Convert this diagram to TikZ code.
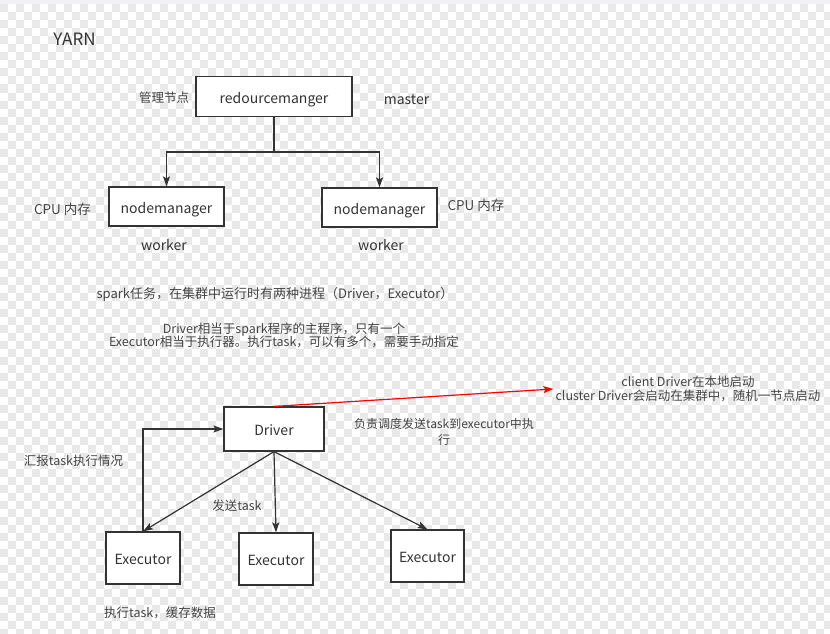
\documentclass[tikz,border=0pt]{standalone}
\usepackage{fontspec}
\setmainfont{Noto Sans CJK SC}
\usepackage{xcolor}
\usetikzlibrary{arrows.meta,positioning}
\definecolor{inkgray}{HTML}{333333}
\definecolor{notegray}{HTML}{444444}
\definecolor{chkgray}{HTML}{E9E9E9}
\definecolor{topband}{HTML}{F1F1F3}

\begin{document}
\begin{tikzpicture}[x=1pt,y=-1pt,
  box/.style={draw=inkgray,line width=1.2pt,fill=white,text=inkgray,font=\fontsize{14}{16}\selectfont,inner sep=0pt,text height=13pt,text depth=0pt},
  note/.style={text=notegray,font=\fontsize{12.5}{14}\selectfont,align=center,inner sep=2pt},
  tag/.style={text=inkgray,font=\fontsize{14}{16}\selectfont,inner sep=2pt},
  arr/.style={-{Stealth[length=10pt,width=7pt,inset=2pt]},draw=inkgray,line width=1.2pt},
  redarr/.style={arr,draw=red},
  chk/.style={draw=chkgray,line width=8pt,dash pattern=on 8pt off 8pt}
]
% background
\useasboundingbox (0,0) rectangle (830,634);
\fill[white] (0,0) rectangle (830,634);
\foreach \yy in {8.5,24.5,...,640} \draw[chk] (0,\yy) -- (830,\yy);
\foreach \yy in {16.5,32.5,...,640} \draw[chk,dash phase=8pt] (0,\yy) -- (830,\yy);
\fill[topband] (0,0) rectangle (830,4.5);

% YARN part
\node[tag,font=\fontsize{17}{19}\selectfont] (yarn) at (74.5,39) {YARN};
\node[box,minimum width=156pt,minimum height=40pt] (rm) at (274,96.5) {redourcemanger};
\node[note,left=4pt of rm,yshift=-1pt] (mgr) {管理节点};
\node[tag] (master) at (406.5,99.5) {master};
\node[box,minimum width=115pt,minimum height=39pt] (nm1) at (166.5,206.5) {nodemanager};
\node[box,minimum width=115pt,minimum height=39pt] (nm2) at (379.5,207.5) {nodemanager};
\node[note,font=\fontsize{13.5}{15}\selectfont] (cpu1) at (62.5,209) {CPU 内存};
\node[note,font=\fontsize{13.5}{15}\selectfont] (cpu2) at (476,205) {CPU 内存};
\node[tag] (wk1) at (164,245.5) {worker};
\node[tag] (wk2) at (381,245.5) {worker};

\coordinate (split) at (274,152);
\draw[arr] (rm.south) -- (split) -| (nm1.north);
\draw[arr] (split) -| (nm2.north);

% spark notes
\node[note,font=\fontsize{13}{15}\selectfont] (spark) at (275,294) {spark任务，在集群中运行时有两种进程（Driver，Executor）};
\node[note,font=\fontsize{12.5}{13.5}\selectfont] (roles) at (284,335.5) {Driver相当于spark程序的主程序，只有一个\\Executor相当于执行器。执行task，可以有多个，需要手动指定};

% driver / executors
\node[box,minimum width=100pt,minimum height=44pt] (drv) at (274,429) {Driver};
\node[box,minimum width=74pt,minimum height=52pt] (ex1) at (143,558) {Executor};
\node[box,minimum width=74pt,minimum height=52pt] (ex2) at (276,559) {Executor};
\node[box,minimum width=73pt,minimum height=52pt] (ex3) at (427.5,556) {Executor};

\node[note,font=\fontsize{12.5}{14}\selectfont] (mode) at (688,389) {client Driver在本地启动\\cluster Driver会启动在集群中，随机一节点启动};
\node[note,font=\fontsize{12}{16}\selectfont] (sched) at (444,432) {负责调度发送task到executor中执\\行};
\node[note] (report) at (73.5,461) {汇报task执行情况};
\node[note] (send) at (237,505.5) {发送task};
\node[note] (cache) at (160,613) {执行task，缓存数据};

\draw[redarr] (drv.north) -- (mode.west);
\draw[arr] (drv.south) -- (ex1.north);
\draw[arr] (drv.south) -- (ex2.north);
\draw[arr] (drv.south) -- (ex3.north);
\draw[arr] (ex1.north) |- (drv.west);
\end{tikzpicture}
\end{document}
